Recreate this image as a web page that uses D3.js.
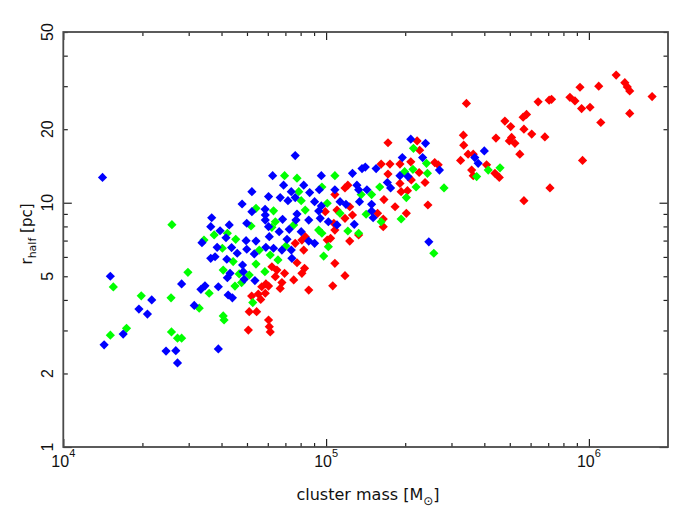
<!DOCTYPE html>
<html><head><meta charset="utf-8">
<script src="https://cdn.jsdelivr.net/npm/d3@7/dist/d3.min.js"></script>
<style>body{margin:0;background:#fff}svg{display:block}</style>
</head><body><svg id="c" width="693" height="518"></svg>
<script>
// ---- data (cluster mass [Msun], r_half [pc]) ----
const xDecades = [1e4, 1e5, 1e6];
const xExponents = ["4", "5", "6"];
const yTickLabels = [1, 2, 5, 10, 20, 50];

const blue = [
 [1.41e4,12.7],[1.51e4,5.0],[1.43e4,2.62],[1.69e4,2.9],[1.94e4,3.67],[2.09e4,3.5],[2.17e4,4.0],
 [2.82e4,4.65],[3.15e4,3.8],[2.46e4,2.47],[2.68e4,2.48],[2.72e4,2.21],
 [5.22e4,11.1],[4.79e4,9.88],[5.22e4,9.19],[3.67e4,8.68],[3.64e4,7.98],[4.28e4,8.11],[4.99e4,8.24],
 [5.86e4,9.4],[3.95e4,7.68],[4.16e4,7.19],[3.37e4,6.86],[3.85e4,6.57],[4.37e4,6.55],[4.96e4,6.99],
 [5.41e4,6.97],[4.99e4,6.45],[5.9e4,6.57],[4.59e4,6.21],[5.33e4,6.17],[3.64e4,5.92],[3.78e4,6.01],
 [4.19e4,5.87],[4.81e4,5.56],[4.84e4,5.22],[4.88e4,4.86],[4.31e4,5.14],[4.21e4,4.93],[5.36e4,4.8],
 [3.89e4,4.53],[3.46e4,4.57],[3.34e4,4.42],[4.24e4,4.19],[4.4e4,4.08],[3.89e4,2.52],
 [7.63e4,15.6],[6.26e4,12.9],[9.59e4,12.9],[6.89e4,11.8],[8.22e4,11.8],[7.37e4,11.1],[8.66e4,11.0],
 [9.42e4,11.3],[1.08e5,11.3],[6.04e4,10.6],[6.69e4,10.5],[7.16e4,10.2],[7.63e4,10.5],[9.04e4,10.1],
 [9.59e4,9.7],[1.13e5,10.1],[9.37e4,9.25],[5.87e4,8.91],[7.75e4,8.99],[5.87e4,8.49],[6.83e4,8.55],
 [7.68e4,8.49],[8.59e4,8.49],[9.5e4,8.63],[1.02e5,8.36],[1.1e5,8.11],[6.04e4,7.98],[6.63e4,7.61],
 [7.24e4,7.78],[8.04e4,7.61],[6.08e4,7.26],[7.1e4,7.08],[8.59e4,6.97],[9.04e4,6.82],[6.31e4,6.51],
 [6.79e4,6.4],[7.37e4,6.4],[7.41e4,5.92],
 [2.1e5,18.2],[2.39e5,17.5],[1.95e5,15.3],[2.33e5,15.3],[1.41e5,14.0],[1.37e5,13.8],[1.55e5,13.8],
 [1.26e5,13.2],[2.7e5,13.6],[1.91e5,12.9],[2.05e5,12.8],[1.71e5,12.1],[1.76e5,11.5],[1.31e5,11.8],
 [1.33e5,11.3],[1.43e5,11.3],[1.19e5,9.85],[1.34e5,10.1],[1.49e5,9.85],[1.49e5,9.25],[1.51e5,8.68],
 [1.28e5,8.16],[2.46e5,6.92],[4.0e5,16.3],[3.68e5,15.3],[3.79e5,14.5]
];

const green = [
 [2.59e4,8.13],[1.55e4,4.52],[1.98e4,4.16],[2.57e4,4.08],[2.98e4,5.19],[1.51e4,2.87],[1.74e4,3.06],
 [2.58e4,2.96],[2.72e4,2.79],[2.82e4,2.79],
 [5.41e4,9.49],[5.18e4,8.03],[3.43e4,7.03],[3.75e4,7.38],[4.21e4,7.5],[4.53e4,7.08],[4.03e4,6.51],
 [5.57e4,6.4],[4.43e4,5.74],[5.41e4,5.61],[4.06e4,5.3],[5.85e4,5.22],[4.67e4,5.11],[5.1e4,5.06],
 [4.5e4,4.56],[4.77e4,4.71],[3.59e4,4.26],[3.29e4,3.7],[5.26e4,3.9],[4.06e4,3.44],[4.09e4,3.31],
 [6.95e4,12.9],[7.75e4,12.6],[1.08e5,12.9],[7.87e4,11.1],[9.64e4,11.6],[8.04e4,10.2],[1.01e5,9.95],
 [6.31e4,9.27],[8.33e4,9.33],[1.13e5,9.05],[6.41e4,8.36],[6.22e4,7.93],[7.53e4,8.11],[9.37e4,7.73],
 [9.64e4,7.5],[7.03e4,6.65],[6.13e4,6.11],[1.02e5,6.61],[9.79e4,6.05],[6.56e4,5.83],
 [2.15e5,16.7],[2.41e5,14.5],[1.99e5,13.4],[2.14e5,13.7],[2.43e5,13.2],[2.81e5,11.5],[2.2e5,11.6],
 [1.6e5,11.6],[2.02e5,10.5],[1.49e5,10.8],[1.36e5,10.8],[1.42e5,8.97],[1.93e5,8.58],[1.62e5,8.36],
 [2.57e5,6.21],[1.33e5,7.5],[1.21e5,7.66],
 [4.59e5,13.9],[4.14e5,13.6],[3.74e5,12.8]
];

const red = [
 [5.21e4,4.15],[5.52e4,4.23],[5.69e4,4.53],[5.9e4,4.65],[5.64e4,4.02],[5.1e4,3.58],[5.44e4,3.58],
 [5.06e4,3.01],[6.04e4,3.31],[6.13e4,2.96],[6.08e4,3.11],[5.87e4,4.26],
 [1.08e5,10.8],[1.1e5,9.33],[9.93e4,9.19],[1.07e5,8.24],[1.08e5,7.73],[1.01e5,7.03],[1.04e5,7.15],
 [8.33e4,7.26],[8.09e4,7.03],[8.22e4,6.4],[7.63e4,6.82],[7.75e4,5.68],[1.08e5,5.65],[6.22e4,5.47],
 [6.5e4,5.3],[6.95e4,5.14],[6.41e4,4.98],[8.28e4,5.39],[8.09e4,5.14],[7.53e4,4.83],[6.79e4,4.71],
 [6.04e4,4.56],[6.69e4,4.46],[8.59e4,4.39],[1.06e5,4.57],[1.18e5,5.03],
 [1.72e5,17.6],[2.22e5,17.9],[2.27e5,16.4],[2.59e5,14.6],[2.67e5,14.3],[1.62e5,14.4],[1.75e5,14.4],
 [1.91e5,14.4],[2.1e5,14.7],[1.72e5,13.1],[2.26e5,13.3],[2.11e5,12.4],[2.38e5,12.1],[1.91e5,12.0],
 [1.21e5,11.8],[1.18e5,11.5],[1.93e5,11.1],[2.04e5,11.2],[1.66e5,10.3],[2.44e5,9.79],[1.83e5,9.63],
 [1.23e5,9.63],[1.26e5,8.91],[2.02e5,9.05],[1.57e5,9.05],[1.65e5,8.58],[1.65e5,7.98],[1.18e5,8.63],
 [1.33e5,7.38],[1.23e5,6.97],
 [1.27e6,33.3],[1.37e6,31.0],[1.4e6,29.8],[1.43e6,28.7],[1.09e6,30.0],[9.25e5,29.7],[1.74e6,27.2],
 [1.43e6,23.2],[8.47e5,27.0],[8.85e5,26.1],[9.38e5,24.3],[1.01e6,24.6],[1.11e6,21.3],[9.46e5,14.9],
 [6.41e5,25.9],[7.06e5,26.3],[7.21e5,26.5],[3.42e5,25.5],[5.79e5,23.0],[5.62e5,22.4],[4.79e5,21.6],
 [5.04e5,20.5],[5.66e5,20.0],[6.06e5,19.1],[6.8e5,18.6],[4.43e5,18.4],[5.08e5,18.5],[4.98e5,17.9],
 [5.23e5,17.5],[3.33e5,18.9],[3.34e5,17.2],[3.47e5,15.8],[3.63e5,15.8],[5.46e5,15.8],[3.25e5,14.9],
 [3.58e5,13.6],[3.63e5,12.9],[4.08e5,14.3],[4.39e5,13.2],[4.56e5,12.7],[7.11e5,11.5],[5.66e5,10.2]
];

// ---- layout ----
const M = {l: 63.3, r: 668, t: 32, b: 447};
const x = d3.scaleLog().domain([1e4, 2e6]).range([M.l, M.r]);
const y = d3.scaleLog().domain([1, 50]).range([M.b, M.t]);
const svg = d3.select("#c");

// ---- points ----
const diamond = s => `M0,${-s}L${s},0L0,${s}L${-s},0Z`;
[[red, "#ff0000"], [green, "#00ff00"], [blue, "#0000ff"]].forEach(([data, col]) => {
  svg.append("g").selectAll("path").data(data).join("path")
    .attr("d", diamond(4.6))
    .attr("transform", d => `translate(${x(d[0])},${y(d[1])})`)
    .attr("fill", col);
});

// ---- axes ----
const isDecade = v => Math.abs(Math.log10(v) - Math.round(Math.log10(v))) < 1e-9;
const xAll = x.ticks().filter(v => v < 2e6);
const yAll = y.ticks();
const xMinor = xAll.filter(v => !isDecade(v)), xMajor = xAll.filter(isDecade);
const yMinor = yAll.filter(v => !isDecade(v)), yMajor = yAll.filter(isDecade);
const clean = g => { g.select(".domain").remove(); g.selectAll("text").remove();
  g.selectAll("line").attr("stroke", "#222").attr("stroke-width", 1.2); };
function ax(gen, vals, size, tr) {
  svg.append("g").attr("transform", tr)
    .call(gen.tickValues(vals).tickSize(-size).tickFormat(""))
    .call(clean);
}
ax(d3.axisBottom(x), xMinor, 4, `translate(0,${M.b})`);
ax(d3.axisBottom(x), xMajor, 8, `translate(0,${M.b})`);
ax(d3.axisTop(x), xMinor, 4, `translate(0,${M.t})`);
ax(d3.axisTop(x), xMajor, 8, `translate(0,${M.t})`);
ax(d3.axisLeft(y), yMinor, 4.5, `translate(${M.l},0)`);
ax(d3.axisLeft(y), yMajor, 8.5, `translate(${M.l},0)`);
ax(d3.axisRight(y), yMinor, 4.5, `translate(${M.r},0)`);
ax(d3.axisRight(y), yMajor, 8.5, `translate(${M.r},0)`);

svg.append("rect").attr("x", M.l).attr("y", M.t)
  .attr("width", M.r - M.l).attr("height", M.b - M.t)
  .attr("fill", "none").attr("stroke", "#4a4a4a").attr("stroke-width", 1.8);

// ---- tick labels ----
const tickFont = "'Liberation Sans', Arial, sans-serif";
xDecades.forEach((v, i) => {
  const t = svg.append("text").attr("x", x(v)).attr("y", 467)
    .attr("text-anchor", "middle").attr("font-family", tickFont)
    .attr("font-size", 16).attr("fill", "#111");
  t.append("tspan").text("10");
  t.append("tspan").attr("dy", -10).attr("font-size", 11).text(xExponents[i]);
});
yTickLabels.forEach(v => {
  svg.append("text").attr("transform", `translate(53,${y(v)}) rotate(-90)`)
    .attr("text-anchor", "middle").attr("font-family", tickFont)
    .attr("font-size", 16).attr("fill", "#111").text(v);
});

// ---- titles ----
const titleFont = "'DejaVu Sans', sans-serif";
const xt = svg.append("text").attr("x", 368).attr("y", 500)
  .attr("text-anchor", "middle").attr("font-family", titleFont)
  .attr("font-size", 16).attr("fill", "#111");
xt.append("tspan").text("cluster mass [M");
xt.append("tspan").attr("dy", 5).attr("font-size", 12).text("\u2299");
xt.append("tspan").attr("dy", -5).text("]");

const yt = svg.append("text").attr("transform", "translate(32,234) rotate(-90)")
  .attr("text-anchor", "middle").attr("font-family", titleFont)
  .attr("font-size", 15).attr("fill", "#111");
yt.append("tspan").text("r");
yt.append("tspan").attr("dy", 4).attr("font-size", 11).text("half");
yt.append("tspan").attr("dy", -4).text(" [pc]");
</script></body></html>
